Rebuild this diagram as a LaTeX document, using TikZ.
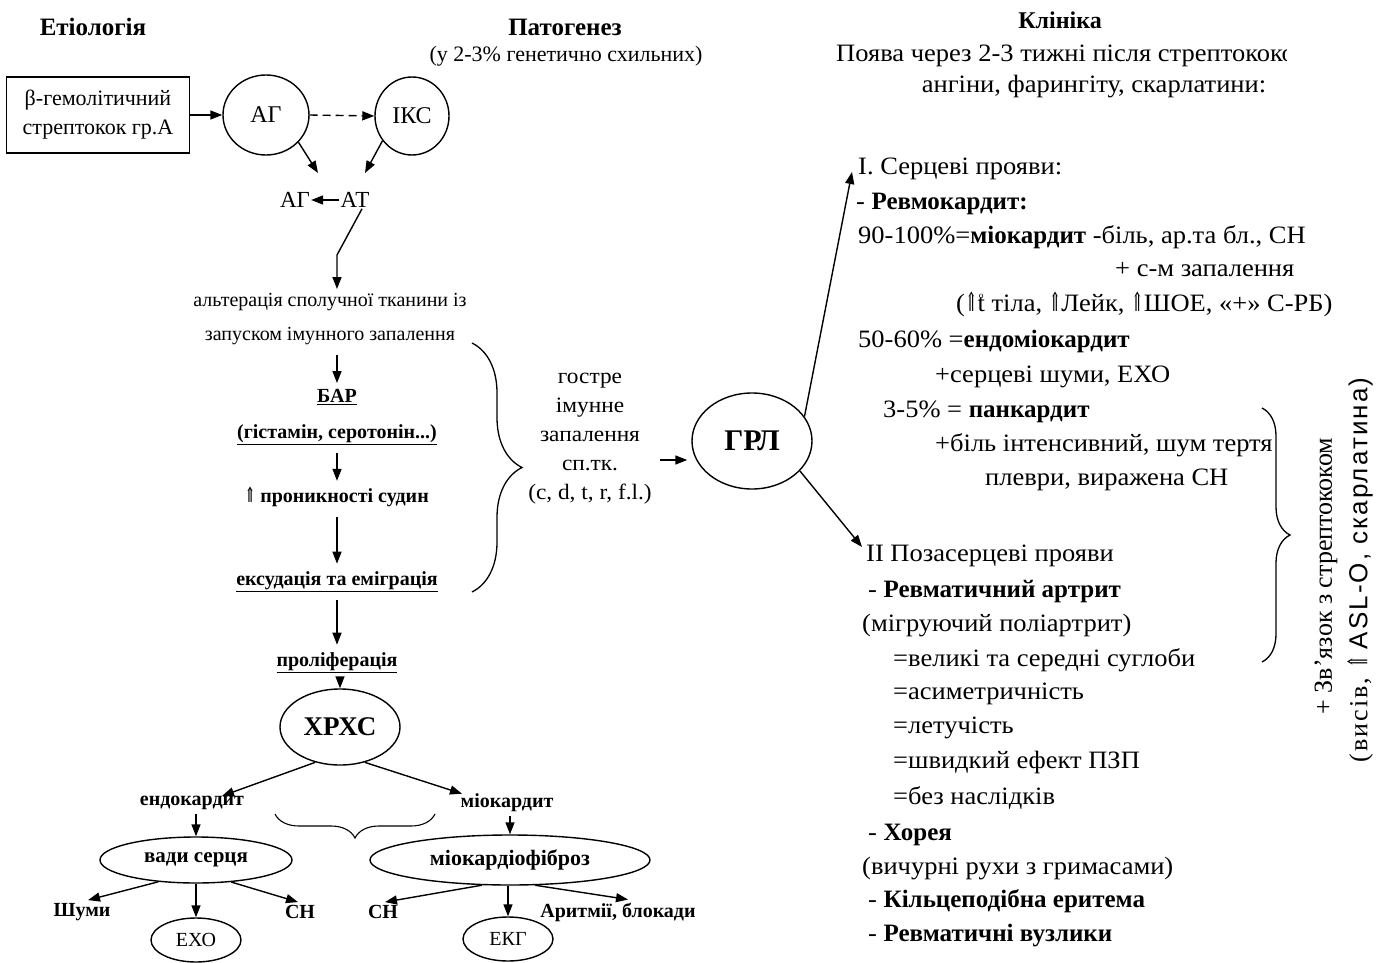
\documentclass[tikz,border=0pt]{standalone}
\usepackage{fontspec}
\setmainfont{Liberation Serif}
\newfontfamily\rfont{Liberation Serif}[FakeStretch=1.06, BoldFeatures={FakeStretch=1.0}]
\newfontfamily\symf{DejaVu Serif}
\newfontfamily\sansf{Liberation Sans}[LetterSpace=8]
\newfontfamily\rotserif{Liberation Serif}[LetterSpace=8]
\usetikzlibrary{arrows.meta,shapes.geometric,decorations.pathreplacing,calc}
\newcommand{\dup}{\scalebox{0.6}[1.05]{\symf ⇑}}
\newcommand{\tdeg}{\ooalign{t\cr\hidewidth\raisebox{0.5em}{\fontsize{9}{9}\selectfont o}\hidewidth}}
\begin{document}
\begin{tikzpicture}[x=1pt,y=-1pt,
  arr/.style={-{Triangle[length=12pt,width=9pt]}, line width=1.4pt},
  lt/.style={inner sep=0pt, align=center, font=\fontsize{20}{34}\selectfont},
  lb/.style={inner sep=0pt, align=center, font=\fontsize{20}{34}\selectfont\bfseries},
  hd/.style={inner sep=0pt, font=\fontsize{25}{28}\selectfont\bfseries},
  ov/.style={ellipse, draw, line width=1.4pt, inner sep=0pt},
  rt/.style={anchor=base west, inner sep=0pt, font=\rfont\fontsize{25}{30}\selectfont},
  brc/.style={decorate, line width=1.3pt}]
\fill[white] (0,0) rectangle (1389,963);
\useasboundingbox (0,0) rectangle (1389,963);

% headers
\node[hd] (h1) at (93,27) {Етіологія};
\node[hd] (h2) at (565,27) {Патогенез};
\node[inner sep=0pt, font=\fontsize{22}{26}\selectfont] (h2s) at (566,56) {(у 2-3\% генетично схильних)};
\node[hd, font=\fontsize{24}{28}\selectfont\bfseries] (h3) at (1060,20) {Клініка};
\begin{scope}
\clip (820,35) rectangle (1286,72);
\node[rt] (h3a) at (836,62) {Поява через 2-3 тижні після стрептококової};
\end{scope}
\node[inner sep=0pt, font=\rfont\fontsize{25}{30}\selectfont] (h3b) at (1094,87) {ангіни, фарингіту, скарлатини:};

% etiology
\node[draw, line width=1.4pt, minimum width=183pt, minimum height=76pt, align=center,
  font=\fontsize{22}{29}\selectfont] (src) at (98,115) {β-гемолітичний\\стрептокок гр.А};
\node[ov, minimum width=86pt, minimum height=80pt, font=\fontsize{24}{26}\selectfont] (ag) at (266,115) {АГ};
\node[ov, minimum width=74pt, minimum height=78pt, font=\fontsize{24}{26}\selectfont] (iks) at (412,116) {ІКС};
\draw[arr] (src.east) -- (ag.west);
\draw[arr, dash pattern=on 8pt off 5pt] (ag.east) -- (iks.west);
\node[inner sep=1pt, font=\fontsize{23}{26}\selectfont] (ag2) at (295,200) {АГ};
\node[inner sep=1pt, font=\fontsize{23}{26}\selectfont] (at2) at (355,200) {АТ};
\coordinate (c1) at (318,173);
\coordinate (c2) at (365,173);
\draw[arr] (ag.-40) -- (c1);
\draw[arr] (iks.-140) -- (c2);
\draw[arr] (at2.west) -- (ag2.east);

% pathogenesis column
\node[lt] (alt) at (330,319) {альтерація сполучної тканини із\\запуском імунного запалення};
\coordinate (b1) at (337,255);
\draw[arr] ([xshift=7pt]at2.south) -- (b1) -- ([yshift=4pt]b1 |- alt.north);
\node[lb, font=\fontsize{20}{36}\selectfont\bfseries] (bar) at (337,417) {\underline{БАР}\\\underline{(гістамін, серотонін...)}};
\node[lb] (pron) at (337,497) {\dup\ проникності судин};
\node[lb] (exs) at (337,582) {\underline{ексудація та еміграція}};
\node[lb] (prol) at (337,663) {\underline{проліферація}};
\node[ov, minimum width=120pt, minimum height=76pt, font=\fontsize{27}{30}\selectfont\bfseries] (xrxs) at (340,727) {ХРХС};
\draw[arr] ([yshift=-10pt]alt.south -| bar.north) -- ([yshift=6pt]bar.north);
\draw[arr] ([yshift=-8pt]bar.south) -- ([yshift=6pt]pron.north);
\draw[arr] ([yshift=-10pt]pron.south) -- ([yshift=8pt]exs.north);
\draw[arr] ([yshift=-8pt]exs.south) -- ([yshift=8pt]prol.north);
\draw[arr] ([yshift=-4pt]prol.south -| xrxs.north) -- (xrxs.north);

% left big brace and acute inflammation
\draw[brc, decoration={brace, amplitude=50pt}] (472,343) -- (472,592);
\node[inner sep=0pt, align=center, font=\rfont\fontsize{22}{29}\selectfont] (acute) at (590,439) {гостре\\імунне\\запалення\\сп.тк.\\(c, d, t, r, f.l.)};
\node[ov, minimum width=120pt, minimum height=96pt, font=\fontsize{30}{34}\selectfont\bfseries] (grl) at (752,441) {ГРЛ};
\coordinate (ga) at (660,460);
\draw[arr, shorten >=4pt] (ga) -- (grl.west |- ga);

% bottom tree
\node[lb] (endo) at (192,803) {ендокардит};
\node[lb] (myo) at (507,803) {міокардит};
\draw[arr] (xrxs.-125) -- ([xshift=30pt]endo.north);
\draw[arr] (xrxs.-55) -- ([xshift=-45pt]myo.north);
\draw[brc, line width=1.1pt, decoration={brace, amplitude=24pt}] (435,814) -- (275,814);
\node[ov, minimum width=192pt, minimum height=46pt, font=\fontsize{21}{24}\selectfont\bfseries] (vadi) at (196,860) {вади серця};
\node[ov, minimum width=280pt, minimum height=50pt, font=\fontsize{22}{24}\selectfont\bfseries] (myof) at (510,860) {міокардіофіброз};
\draw[arr] ([yshift=-4pt]endo.south -| vadi.north) -- (vadi.north);
\draw[arr] ([yshift=-4pt]myo.south -| myof.north) -- (myof.north);
\node[lb] (shumy) at (82,912) {Шуми};
\node[lb] (sn1) at (300,912) {СН};
\node[ov, minimum width=90pt, minimum height=44pt, font=\fontsize{20}{24}\selectfont] (exo) at (196,940) {ЕХО};
\node[lb] (sn2) at (383,912) {СН};
\node[ov, minimum width=90pt, minimum height=44pt, font=\fontsize{20}{24}\selectfont] (ekg) at (508,939) {ЕКГ};
\node[lb] (arit) at (618,912) {Аритмії, блокади};
\draw[arr] (vadi.-150) -- ([xshift=6pt,yshift=3pt]shumy.north);
\draw[arr] (vadi.south) -- (exo.north);
\draw[arr] (vadi.-32) -- ([xshift=-2pt,yshift=3pt]sn1.north);
\draw[arr] (myof.-138) -- ([xshift=2pt,yshift=3pt]sn2.north);
\draw[arr] (myof.south -| ekg.north) -- (ekg.north);
\draw[arr] (myof.-45) -- ([xshift=10pt,yshift=3pt]arit.north);

% clinic text
\node[rt] (s1) at (858,175) {I. Серцеві прояви:};
\node[rt] (s2) at (856,209) {- \textbf{Ревмокардит:}};
\node[rt] (s3) at (858,243) {90-100\%=\textbf{міокардит} -біль, ар.та бл., СН};
\node[rt] (s4) at (1115,276) {+ с-м запалення};
\node[rt] (s5) at (956,311) {(\dup\tdeg\ тіла, \dup Лейк, \dup ШОЕ, «+» С-РБ)};
\node[rt] (s6) at (858,347) {50-60\% =\textbf{ендоміокардит}};
\node[rt] (s7) at (935,382) {+серцеві шуми, ЕХО};
\node[rt] (s8) at (883,417) {3-5\% = \textbf{панкардит}};
\node[rt] (s9) at (935,451) {+біль інтенсивний, шум тертя};
\node[rt] (s10) at (985,485) {плеври, виражена СН};
\node[rt] (p1) at (866,561) {II Позасерцеві прояви};
\node[rt] (p2) at (868,597) {- \textbf{Ревматичний артрит}};
\node[rt] (p3) at (862,631) {(мігруючий поліартрит)};
\node[rt] (p4) at (893,666) {=великі та середні суглоби};
\node[rt] (p5) at (893,699) {=асиметричність};
\node[rt] (p6) at (893,733) {=летучість};
\node[rt] (p7) at (893,768) {=швидкий ефект ПЗП};
\node[rt] (p8) at (893,804) {=без наслідків};
\node[rt] (p9) at (868,840) {- \textbf{Хорея}};
\node[rt] (p10) at (862,874) {(вичурні рухи з гримасами)};
\node[rt] (p11) at (868,907) {- \textbf{Кільцеподібна еритема}};
\node[rt] (p12) at (868,941) {- \textbf{Ревматичні вузлики}};
\coordinate (t1) at (852,172);
\coordinate (t2) at (862,547);
\draw[arr] (grl.25) -- (t1);
\draw[arr] (grl.-32) -- (t2);

% right brace and rotated text
\draw[brc, decoration={brace, amplitude=28pt}] (1262,408) -- (1262,662);
\node[rotate=90, inner sep=0pt, font=\fontsize{26}{28}\selectfont] (rot1) at (1326,576) {+ Зв’язок з стрептококом};
\node[rotate=90, inner sep=0pt, font=\fontsize{26}{30}\selectfont] (rot2) at (1360,570) {{\rotserif (висів, }\dup\ {\sansf ASL-O, скарлатина)}};
\end{tikzpicture}
\end{document}
